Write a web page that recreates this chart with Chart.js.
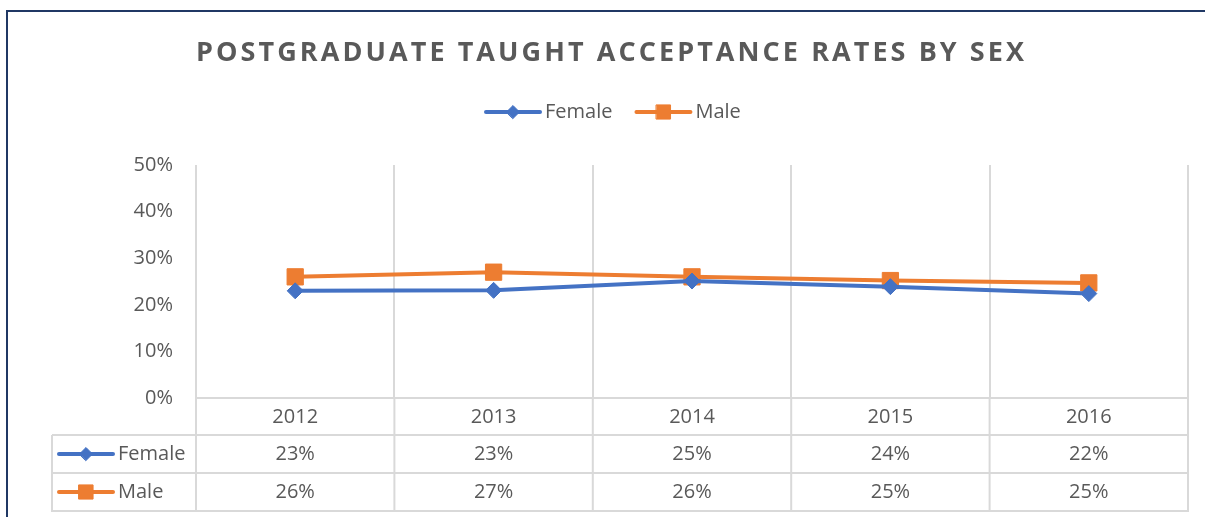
<!DOCTYPE html>
<html lang="en">
<head>
<meta charset="UTF-8">
<script src="https://cdn.jsdelivr.net/npm/chart.js"></script>
<title>Postgraduate Taught Acceptance Rates by Sex</title>
<style>
  html, body { margin: 0; padding: 0; background: #fff; }
  #wrap { width: 1205px; height: 517px; position: relative; }
</style>
</head>
<body>
<div id="wrap"><canvas id="chart"></canvas></div>
<script>
// values (percent)
const years = ['2012', '2013', '2014', '2015', '2016'];
const female = [23.0, 23.1, 25.1, 23.9, 22.4];
const male = [26.0, 27.0, 26.0, 25.2, 24.7];
const chartTitle = 'POSTGRADUATE TAUGHT ACCEPTANCE RATES BY SEX';

const FONT = '"Open Sans", sans-serif';
const TEXT = '#595959';
const GRID = '#d9d9d9';
const BLUE = '#4472c4';
const ORANGE = '#ed7d31';

// line + marker key like the Excel legend
function drawKey(ctx, x, y, ds, r) {
    ctx.save();
    ctx.strokeStyle = ds.borderColor;
    ctx.lineWidth = 4;
    ctx.lineCap = 'round';
    ctx.beginPath();
    ctx.moveTo(x, y);
    ctx.lineTo(x + 54, y);
    ctx.stroke();
    ctx.fillStyle = ds.borderColor;
    ctx.lineWidth = 1;
    Chart.helpers.drawPoint(ctx, { pointStyle: ds.pointStyle, radius: r, borderWidth: 1 }, x + 27, y);
    ctx.restore();
}

const excelBits = {
    id: 'excelBits',
    beforeDraw(chart) {
        const ctx = chart.ctx;
        // outer frame (right and bottom edges are off the picture)
        ctx.save();
        ctx.strokeStyle = '#203864';
        ctx.lineWidth = 2;
        ctx.beginPath();
        ctx.moveTo(7, 520);
        ctx.lineTo(7, 11);
        ctx.lineTo(1210, 11);
        ctx.stroke();

        // title with wide letter spacing
        ctx.font = 'bold 27px ' + FONT;
        ctx.fillStyle = TEXT;
        ctx.textBaseline = 'middle';
        ctx.textAlign = 'left';
        ctx.letterSpacing = '0px';
        const plain = ctx.measureText(chartTitle).width;
        const sp = (828 - plain) / (chartTitle.length - 1);
        ctx.letterSpacing = sp + 'px';
        ctx.fillText(chartTitle, 196, 53);
        ctx.letterSpacing = '0px';

        // legend
        ctx.font = '20px ' + FONT;
        const sets = chart.data.datasets;
        const radii = [6.5, 10];
        let x = 486;
        sets.forEach((ds, i) => {
            drawKey(ctx, x, 112, ds, radii[i]);
            ctx.fillStyle = TEXT;
            ctx.fillText(ds.label, x + 59, 112);
            x += 59 + ctx.measureText(ds.label).width + 24;
        });
        ctx.restore();
    },
    afterDraw(chart) {
        const ctx = chart.ctx;
        const area = chart.chartArea;
        const xs = chart.scales.x;
        const n = chart.data.labels.length;
        const cw = (area.right - area.left) / n;
        const rows = [area.bottom + 37, area.bottom + 75, area.bottom + 113];
        const keyLeft = 52;

        ctx.save();
        ctx.strokeStyle = GRID;
        ctx.lineWidth = 2;
        ctx.beginPath();
        rows.forEach((y, i) => {
            ctx.moveTo(i === 2 ? keyLeft - 1 : keyLeft, y);
            ctx.lineTo(area.right + 1, y);
        });
        for (let i = 0; i <= n; i++) {
            const bx = area.left + i * cw;
            ctx.moveTo(bx, area.bottom);
            ctx.lineTo(bx, rows[2]);
        }
        ctx.moveTo(keyLeft, rows[0]);
        ctx.lineTo(keyLeft, rows[2] + 1);
        ctx.stroke();

        ctx.font = '20px ' + FONT;
        ctx.fillStyle = TEXT;
        ctx.textBaseline = 'middle';
        chart.data.datasets.forEach((ds, r) => {
            const y = (rows[r] + rows[r + 1]) / 2;
            drawKey(ctx, 59, y, ds, r === 0 ? 6.5 : 10);
            ctx.fillStyle = TEXT;
            ctx.textAlign = 'left';
            ctx.fillText(ds.label, 118, y);
            ctx.textAlign = 'center';
            ds.data.forEach((v, i) => {
                ctx.fillText(Math.round(v) + '%', xs.getPixelForValue(i), y);
            });
        });
        ctx.restore();
    }
};

new Chart(document.getElementById('chart'), {
    type: 'line',
    data: {
        labels: years,
        datasets: [{
            label: 'Female',
            data: female,
            borderColor: BLUE,
            backgroundColor: BLUE,
            borderWidth: 4,
            pointStyle: 'rectRot',
            pointRadius: 8,
            pointBorderWidth: 1,
            pointHoverRadius: 8
        }, {
            label: 'Male',
            data: male,
            borderColor: ORANGE,
            backgroundColor: ORANGE,
            borderWidth: 4,
            pointStyle: 'rect',
            pointRadius: 11.5,
            pointBorderWidth: 1,
            pointHoverRadius: 11.5
        }]
    },
    options: {
        responsive: true,
        maintainAspectRatio: false,
        animation: false,
        layout: { padding: { top: 165, right: 17, bottom: 82, left: 0 } },
        plugins: {
            legend: { display: false },
            title: { display: false },
            tooltip: { enabled: false }
        },
        scales: {
            x: {
                offset: true,
                grid: { color: GRID, lineWidth: 2, drawTicks: false, offset: true },
                border: { color: GRID, width: 2 },
                ticks: { color: TEXT, font: { family: FONT, size: 20 }, padding: 7 },
                afterFit(scale) { scale.height = 37; }
            },
            y: {
                min: 0,
                max: 50,
                ticks: {
                    stepSize: 10,
                    color: TEXT,
                    font: { family: FONT, size: 20 },
                    padding: 23,
                    callback: (v) => v + '%'
                },
                grid: { display: false, drawTicks: false },
                border: { display: false },
                afterFit(scale) { scale.width = 196; }
            }
        }
    },
    plugins: [excelBits]
});
</script>
</body>
</html>
